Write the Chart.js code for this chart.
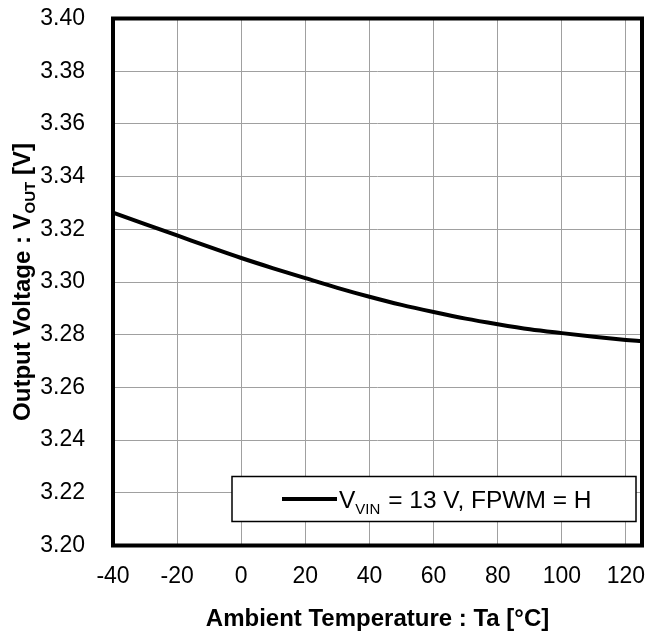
<!DOCTYPE html>
<html><head><meta charset="utf-8">
<script src="https://cdn.jsdelivr.net/npm/chart.js@4/dist/chart.umd.min.js"></script>
<style>html,body{margin:0;padding:0;background:#fff}#wrap{width:646px;height:637px}</style>
</head><body><div id="wrap"><canvas id="c" width="646" height="637"></canvas></div>
<script>
// ---- data ----
const temperatures = [-40, -30, -20, -10, 0, 10, 20, 30, 40, 50, 60, 70, 80, 90, 100, 110, 120, 125];
const vout = [3.3263, 3.3220, 3.3177, 3.3133, 3.3091, 3.3052, 3.3015, 3.2978, 3.2944, 3.2913, 3.2886, 3.2861, 3.2840, 3.2821, 3.2806, 3.2792, 3.2780, 3.2775];
const xTickValues = [-40, -20, 0, 20, 40, 60, 80, 100, 120];
const yTickValues = [3.20, 3.22, 3.24, 3.26, 3.28, 3.30, 3.32, 3.34, 3.36, 3.38, 3.40];
const xRange = [-40, 125];
const yRange = [3.20, 3.40];
const seriesLabelParts = ['V', 'VIN', ' = 13 V, FPWM = H'];
const xTitleText = 'Ambient Temperature : Ta [°C]';
const yTitleParts = ['Output Voltage : V', 'OUT', ' [V]'];

const FONT = '"Liberation Sans", Arial, sans-serif';
const FS = 23;
const FT = 24;

const framePlugin = {
  id: 'frame',
  afterDatasetsDraw(chart) {
    const {ctx, chartArea: a} = chart;
    ctx.save();
    // legend box
    const bx = a.left + 119, by = a.top + 458, bw = a.right - 6 - bx, bh = 45;
    ctx.fillStyle = '#fff';
    ctx.fillRect(bx, by, bw, bh);
    ctx.strokeStyle = '#000';
    ctx.lineWidth = 1.5;
    ctx.strokeRect(bx, by, bw, bh);
    const ly = by + 22.5;
    ctx.beginPath();
    ctx.lineWidth = 4;
    ctx.moveTo(bx + 50, ly);
    ctx.lineTo(bx + 105, ly);
    ctx.stroke();
    ctx.fillStyle = '#000';
    ctx.textBaseline = 'alphabetic';
    ctx.textAlign = 'left';
    let tx = bx + 107;
    const base = ly + 8.5;
    ctx.font = '24.5px ' + FONT;
    ctx.fillText(seriesLabelParts[0], tx, base);
    tx += ctx.measureText(seriesLabelParts[0]).width;
    ctx.font = '15px ' + FONT;
    ctx.fillText(seriesLabelParts[1], tx, base + 6);
    tx += ctx.measureText(seriesLabelParts[1]).width + 1;
    ctx.font = '24.5px ' + FONT;
    ctx.fillText(seriesLabelParts[2], tx, base);
    // frame
    ctx.lineWidth = 4;
    ctx.strokeStyle = '#000';
    ctx.strokeRect(a.left, a.top, a.right - a.left, a.bottom - a.top);
    ctx.restore();
  },
  afterDraw(chart) {
    const {ctx, chartArea: a} = chart;
    ctx.save();
    ctx.fillStyle = '#000';
    const bold = 'bold ' + FT + 'px ' + FONT;
    const boldSub = 'bold 15px ' + FONT;
    ctx.font = bold;
    const w0 = ctx.measureText(yTitleParts[0]).width;
    const w2 = ctx.measureText(yTitleParts[2]).width;
    ctx.font = boldSub;
    const w1 = ctx.measureText(yTitleParts[1]).width;
    const total = w0 + w1 + w2;
    ctx.translate(30, (a.top + a.bottom) / 2);
    ctx.rotate(-Math.PI / 2);
    ctx.textBaseline = 'alphabetic';
    ctx.textAlign = 'left';
    let x = -total / 2;
    ctx.font = bold;
    ctx.fillText(yTitleParts[0], x, 0);
    x += w0;
    ctx.font = boldSub;
    ctx.fillText(yTitleParts[1], x, 5);
    x += w1;
    ctx.font = bold;
    ctx.fillText(yTitleParts[2], x, 0);
    ctx.restore();
  }
};

function zeroPad(s) { s.paddingLeft = 0; s.paddingRight = 0; s.paddingTop = 0; s.paddingBottom = 0; }

new Chart(document.getElementById('c'), {
  type: 'line',
  data: {
    datasets: [{
      label: seriesLabelParts.join(''),
      data: temperatures.map((t, i) => ({x: t, y: vout[i]})),
      borderColor: '#000',
      borderWidth: 4,
      pointRadius: 0,
      cubicInterpolationMode: 'monotone',
      fill: false
    }]
  },
  options: {
    responsive: false,
    devicePixelRatio: 1,
    animation: false,
    layout: {padding: {top: 18.5, right: 4, left: 0, bottom: 0}},
    plugins: {legend: {display: false}, tooltip: {enabled: false}},
    scales: {
      x: {
        type: 'linear',
        min: xRange[0], max: xRange[1],
        afterBuildTicks: s => { s.ticks = xTickValues.map(v => ({value: v})); },
        afterFit: s => { s.height = 91.5; zeroPad(s); },
        grid: {color: '#a0a0a0', lineWidth: 1, drawTicks: false},
        border: {display: false},
        ticks: {color: '#000', font: {family: FONT, size: FS}, padding: 17, maxRotation: 0, autoSkip: false},
        title: {display: true, text: xTitleText, color: '#000', font: {family: FONT, size: FT, weight: 'bold'}, padding: {top: 0, bottom: 3}}
      },
      y: {
        type: 'linear',
        min: yRange[0], max: yRange[1],
        afterBuildTicks: s => { s.ticks = yTickValues.map(v => ({value: v})); },
        afterFit: s => { s.width = 113; zeroPad(s); },
        grid: {color: '#a0a0a0', lineWidth: 1, drawTicks: false},
        border: {display: false},
        ticks: {color: '#000', font: {family: FONT, size: FS}, padding: 28, callback: v => v.toFixed(2)}
      }
    }
  },
  plugins: [framePlugin]
});
</script>
</body></html>
